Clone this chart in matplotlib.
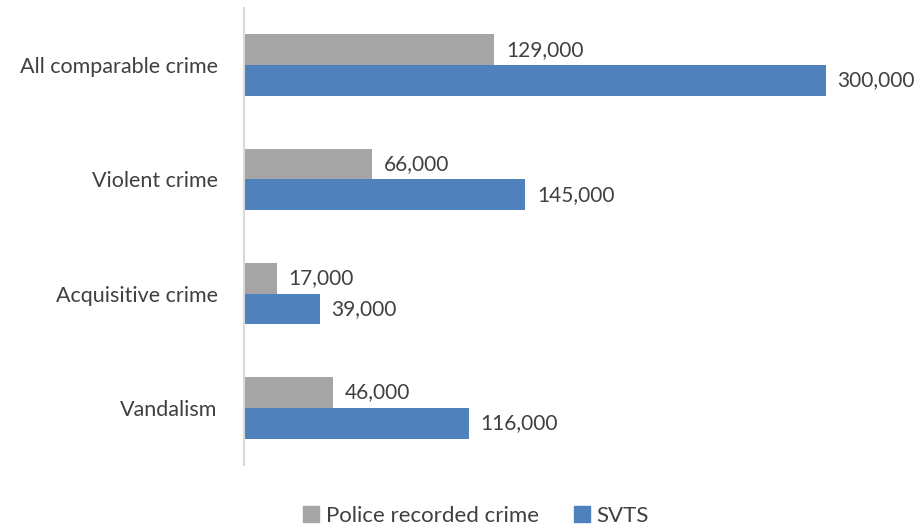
import matplotlib
matplotlib.use("Agg")
import matplotlib.pyplot as plt
import numpy as np
from matplotlib.patches import Patch

categories = ["All comparable crime", "Violent crime", "Acquisitive crime", "Vandalism"]
police = [129000, 66000, 17000, 46000]
svts = [300000, 145000, 39000, 116000]
series_names = ["Police recorded crime", "SVTS"]

plt.rcParams['font.family'] = ['Lato', 'DejaVu Sans']
gray = "#A5A5A5"
blue = "#4F81BD"
txt = "#404040"

fig = plt.figure(figsize=(9.21, 5.30), dpi=100)
ax = fig.add_axes([244/921, 1-465/530, (826-244)/921, (465-8)/530])

y = np.arange(len(categories))
h = 0.27
ax.barh(y - h/2, police, height=h, color=gray)
ax.barh(y + h/2, svts, height=h, color=blue)
for yi, v in zip(y, police):
    ax.text(v + 6000, yi - h/2, f"{v:,}", va="center", ha="left", fontsize=15, color=txt)
for yi, v in zip(y, svts):
    ax.text(v + 6000, yi + h/2, f"{v:,}", va="center", ha="left", fontsize=15, color=txt)

ax.set_xlim(0, 300000)
ax.set_ylim(len(categories) - 0.5, -0.5)
ax.set_yticks(y)
ax.set_yticklabels(categories, fontsize=15.5, color=txt)
ax.tick_params(axis="y", length=0, pad=19)
ax.set_xticks([])
for s in ["top", "right", "bottom"]:
    ax.spines[s].set_visible(False)
ax.spines["left"].set_color("#D9D9D9")
ax.spines["left"].set_linewidth(1.5)

handles = [Patch(color=gray), Patch(color=blue)]
fig.legend(handles, series_names, loc="center", bbox_to_anchor=(476/921, 1-516/530),
           ncol=2, frameon=False, fontsize=16, handlelength=0.7, handleheight=0.7,
           handletextpad=0.3, columnspacing=1.6, labelcolor=txt)

fig.savefig("out.png", dpi=100)
